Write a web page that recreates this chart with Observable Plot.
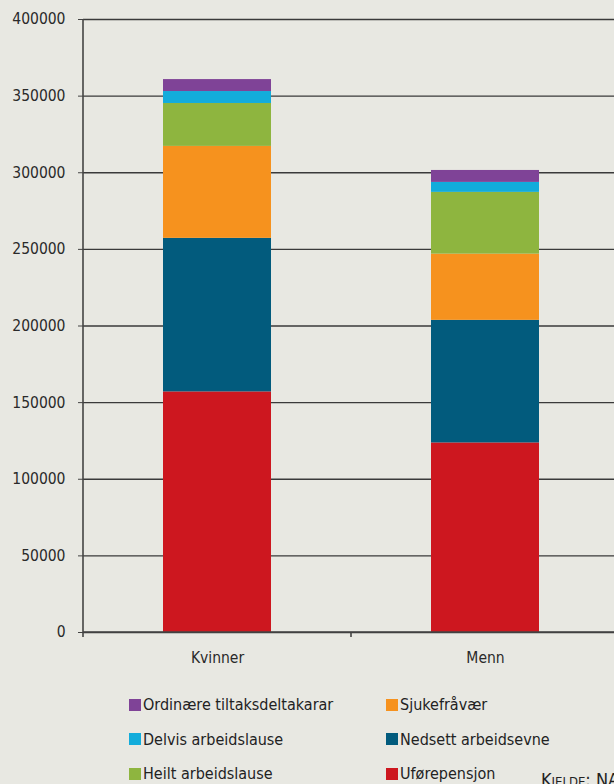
<!DOCTYPE html>
<html>
<head>
<meta charset="utf-8">
<script src="https://cdn.jsdelivr.net/npm/d3@7"></script>
<script src="https://cdn.jsdelivr.net/npm/@observablehq/plot@0.6"></script>
<style>
  html, body { margin: 0; padding: 0; background: #e8e8e2; overflow: hidden; }
  #wrap { position: relative; width: 614px; height: 784px; background: #e8e8e2; font-family: "DejaVu Sans Condensed", "DejaVu Sans", sans-serif; color: #222; }
  #chart { position: absolute; left: 0; top: 0; }
  #legend { position: absolute; left: 129px; top: 695px; width: 480px; }
  .item { position: absolute; display: flex; align-items: center; font-size: 16px; white-space: nowrap; }
  .sw { width: 12px; height: 12px; margin-right: 2px; flex: none; }
  #source { position: absolute; left: 541px; top: 769px; font-size: 18px; font-variant: small-caps; white-space: nowrap; color: #222; }
</style>
</head>
<body>
<div id="wrap">
  <div id="chart"></div>
  <div id="legend"></div>
  <div id="source">Kjelde: NAV</div>
</div>
<script>
// ---- data ----
const categories = ["Kvinner", "Menn"];
const series = ["Uførepensjon", "Nedsett arbeidsevne", "Sjukefråvær", "Heilt arbeidslause", "Delvis arbeidslause", "Ordinære tiltaksdeltakarar"];
const kvinnerValues = [157000, 100200, 60000, 28000, 7800, 7800];
const mennValues = [123700, 80000, 43200, 40300, 6500, 7800];
const colors = ["#cd171f", "#025b7d", "#f6921e", "#8eb53f", "#12acdb", "#7f4397"];
const yTicks = [0, 50000, 100000, 150000, 200000, 250000, 300000, 350000, 400000];
const legendOrder = ["Ordinære tiltaksdeltakarar", "Delvis arbeidslause", "Heilt arbeidslause", "Sjukefråvær", "Nedsett arbeidsevne", "Uførepensjon"];

const valuesByCat = { "Kvinner": kvinnerValues, "Menn": mennValues };
const rows = [];
for (const c of categories) {
  series.forEach((s, i) => rows.push({ category: c, series: s, value: valuesByCat[c][i] }));
}

const W = 614, H = 672;
const plot = Plot.plot({
  width: W,
  height: H,
  marginLeft: 83,
  marginRight: 0,
  marginTop: 19,
  marginBottom: H - 632,
  style: { background: "transparent", fontFamily: "'DejaVu Sans Condensed', 'DejaVu Sans', sans-serif", fontSize: "15.5px", color: "#2a2a2a", overflow: "visible" },
  x: { domain: categories, range: [83, 619], paddingInner: 0.597, paddingOuter: 0.2985, label: null },
  y: { domain: [0, 400000], label: null },
  color: { domain: series, range: colors },
  marks: [
    Plot.gridY(yTicks, { stroke: "#3a3a3a", strokeOpacity: 1, strokeWidth: 1.3 }),
    Plot.barY(rows, { x: "category", y: "value", fill: "series", order: series }),
    Plot.axisY(yTicks, { tickSize: 5, tickPadding: 13, tickFormat: d => String(d), stroke: "#444", fill: "#2a2a2a", fontSize: 15.5, label: null }),
    Plot.axisX({ tickSize: 0, tickPadding: 19, fill: "#2a2a2a", fontSize: 15.5, label: null })
  ]
});

document.getElementById("chart").appendChild(plot);

// axis lines + x band boundary ticks, derived from the plot's scales
const xs = plot.scale("x"), ys = plot.scale("y");
const svg = d3.select(plot);
const y0 = ys.apply(0), yTop = ys.apply(400000);
const left = xs.range[0], right = xs.range[1];
const g = svg.append("g").attr("stroke", "#444").attr("stroke-width", 1.6);
g.append("line").attr("x1", left).attr("x2", left).attr("y1", yTop).attr("y2", y0 + 1);
g.append("line").attr("x1", left).attr("x2", right).attr("y1", y0).attr("y2", y0);
const half = (xs.step - xs.bandwidth) / 2;
const bounds = categories.map(c => xs.apply(c) - half).concat([xs.apply(categories[categories.length - 1]) + xs.bandwidth + half]);
bounds.forEach(b => g.append("line").attr("x1", b).attr("x2", b).attr("y1", y0).attr("y2", y0 + 5));

// legend
const legend = document.getElementById("legend");
legendOrder.forEach((name, i) => {
  const col = Math.floor(i / 3), row = i % 3;
  const el = document.createElement("div");
  el.className = "item";
  el.style.left = (col * 257) + "px";
  el.style.top = (row * 34.5) + "px";
  const sw = document.createElement("span");
  sw.className = "sw";
  sw.style.background = colors[series.indexOf(name)];
  el.appendChild(sw);
  const t = document.createElement("span");
  t.textContent = name;
  el.appendChild(t);
  legend.appendChild(el);
});
</script>
</body>
</html>
